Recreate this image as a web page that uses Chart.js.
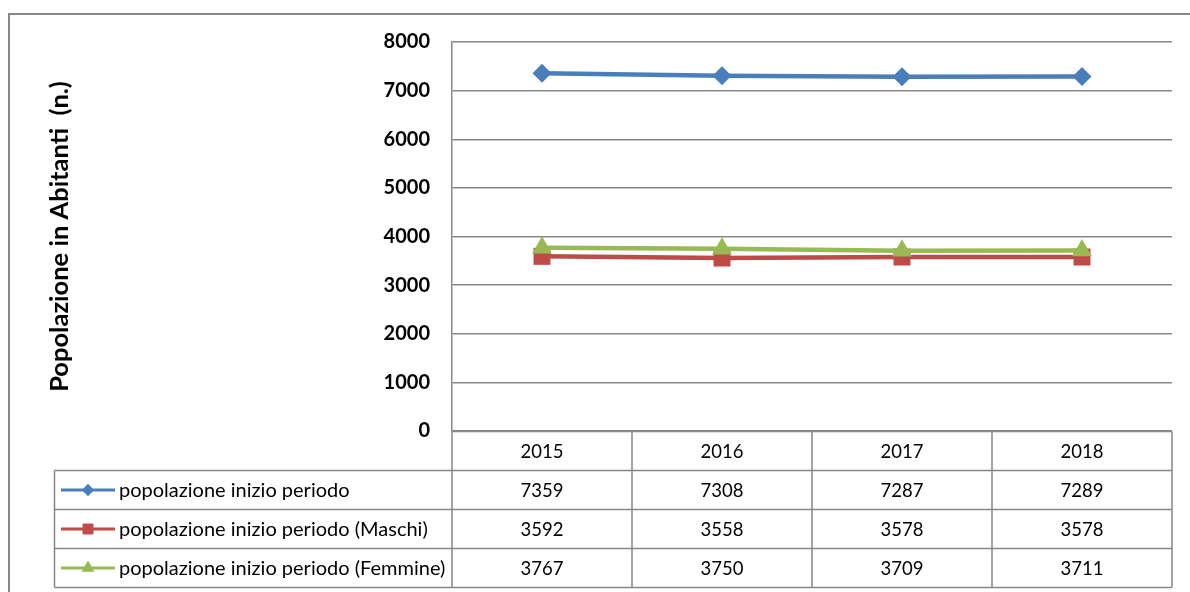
<!DOCTYPE html>
<html>
<head>
<meta charset="utf-8">
<script src="https://cdn.jsdelivr.net/npm/chart.js@4.4.1/dist/chart.umd.min.js"></script>
<style>
  html, body { margin: 0; padding: 0; background: #fff; }
  canvas { display: block; }
</style>
</head>
<body>
<canvas id="popChart" width="1190" height="592"></canvas>
<script>
const years = ["2015", "2016", "2017", "2018"];
const popTotale = [7359, 7308, 7287, 7289];
const popMaschi = [3592, 3558, 3578, 3578];
const popFemmine = [3767, 3750, 3709, 3711];
const yTicks = [0, 1000, 2000, 3000, 4000, 5000, 6000, 7000, 8000];

const GRID = "#878787";
const FONT = "Lato, 'Open Sans', sans-serif";

const series = [
  { label: "popolazione inizio periodo", data: popTotale, color: "#4a7ebb", style: "rectRot", radius: 9.5 },
  { label: "popolazione inizio periodo (Maschi)", data: popMaschi, color: "#be4b48", style: "rect", radius: 12 },
  { label: "popolazione inizio periodo (Femmine)", data: popFemmine, color: "#98b954", style: "triangle", radius: 11.5 }
];

// table under the plot, aligned to the category scale
const dataTable = {
  id: "dataTable",
  afterDraw(chart) {
    const ctx = chart.ctx;
    const area = chart.chartArea;
    const x = chart.scales.x;
    const rowH = 39;
    const top = Math.round(area.bottom) + 0.5;
    const legendLeft = 54.5;
    const colW = (area.right - area.left) / years.length;
    const rows = series.length + 1;
    const bottom = top + rowH * rows;

    ctx.save();
    // outer frame
    ctx.strokeStyle = GRID;
    ctx.lineWidth = 2;
    ctx.strokeRect(9, 14, 1300, 700);

    ctx.lineWidth = 1.5;
    ctx.beginPath();
    ctx.moveTo(area.left, top);
    ctx.lineTo(area.right, top);
    for (let r = 1; r <= rows; r++) {
      const y = top + rowH * r;
      ctx.moveTo(legendLeft, y);
      ctx.lineTo(area.right, y);
    }
    for (let c = 0; c <= years.length; c++) {
      const xx = area.left + colW * c;
      ctx.moveTo(xx, top);
      ctx.lineTo(xx, bottom);
    }
    ctx.moveTo(legendLeft, top + rowH);
    ctx.lineTo(legendLeft, bottom);
    ctx.stroke();

    ctx.fillStyle = "#000";
    ctx.font = "18.5px " + FONT;
    ctx.textAlign = "center";
    ctx.textBaseline = "middle";
    years.forEach((yr, i) => {
      ctx.fillText(yr, x.getPixelForValue(i), top + rowH / 2 + 1);
    });

    series.forEach((s, r) => {
      const cy = top + rowH * (r + 1) + rowH / 2 + 1;
      ctx.font = "18.5px " + FONT;
      ctx.textAlign = "center";
      ctx.fillStyle = "#000";
      s.data.forEach((v, i) => {
        ctx.fillText(String(v), x.getPixelForValue(i), cy);
      });
      // legend key
      ctx.strokeStyle = s.color;
      ctx.lineWidth = 3;
      ctx.beginPath();
      ctx.moveTo(61, cy - 1);
      ctx.lineTo(115, cy - 1);
      ctx.stroke();
      ctx.fillStyle = s.color;
      Chart.helpers.drawPoint(ctx, { pointStyle: s.style, radius: s.radius * 0.62, rotation: 0, borderWidth: 0 }, 88, cy - 1);
      ctx.fill();
      ctx.fillStyle = "#000";
      ctx.textAlign = "left";
      ctx.font = "20px " + FONT;
      ctx.fillText(s.label, 119, cy);
    });
    ctx.restore();
  }
};

new Chart(document.getElementById("popChart"), {
  type: "line",
  data: {
    labels: years,
    datasets: series.map((s, i) => ({
      label: s.label,
      data: s.data,
      borderColor: s.color,
      backgroundColor: s.color,
      borderWidth: 4.5,
      pointStyle: s.style,
      pointRadius: s.radius,
      pointBorderWidth: 0,
      pointBackgroundColor: s.color,
      tension: 0,
      order: [0, 2, 1][i]
    }))
  },
  options: {
    responsive: false,
    animation: false,
    layout: { padding: { left: 42, top: 42, right: 18, bottom: 161 } },
    plugins: { legend: { display: false }, tooltip: { enabled: false } },
    scales: {
      x: { type: "category", offset: true, display: false },
      y: {
        min: 0,
        max: 8000,
        afterBuildTicks: (axis) => { axis.ticks = yTicks.map(v => ({ value: v })); },
        afterFit: (axis) => { axis.width = 410; },
        grid: { color: GRID, lineWidth: 1.5, drawTicks: false },
        border: { display: true, color: GRID, width: 1.5 },
        ticks: {
          padding: 22,
          color: "#000",
          font: { family: FONT, size: 20, weight: "bold" },
          callback: (v) => String(v)
        },
        title: {
          display: true,
          text: "Popolazione in Abitanti  (n.)",
          color: "#000",
          padding: { top: 2, bottom: 0 },
          font: { family: FONT, size: 25.5, weight: "bold" }
        }
      }
    }
  },
  plugins: [dataTable]
});
</script>
</body>
</html>
